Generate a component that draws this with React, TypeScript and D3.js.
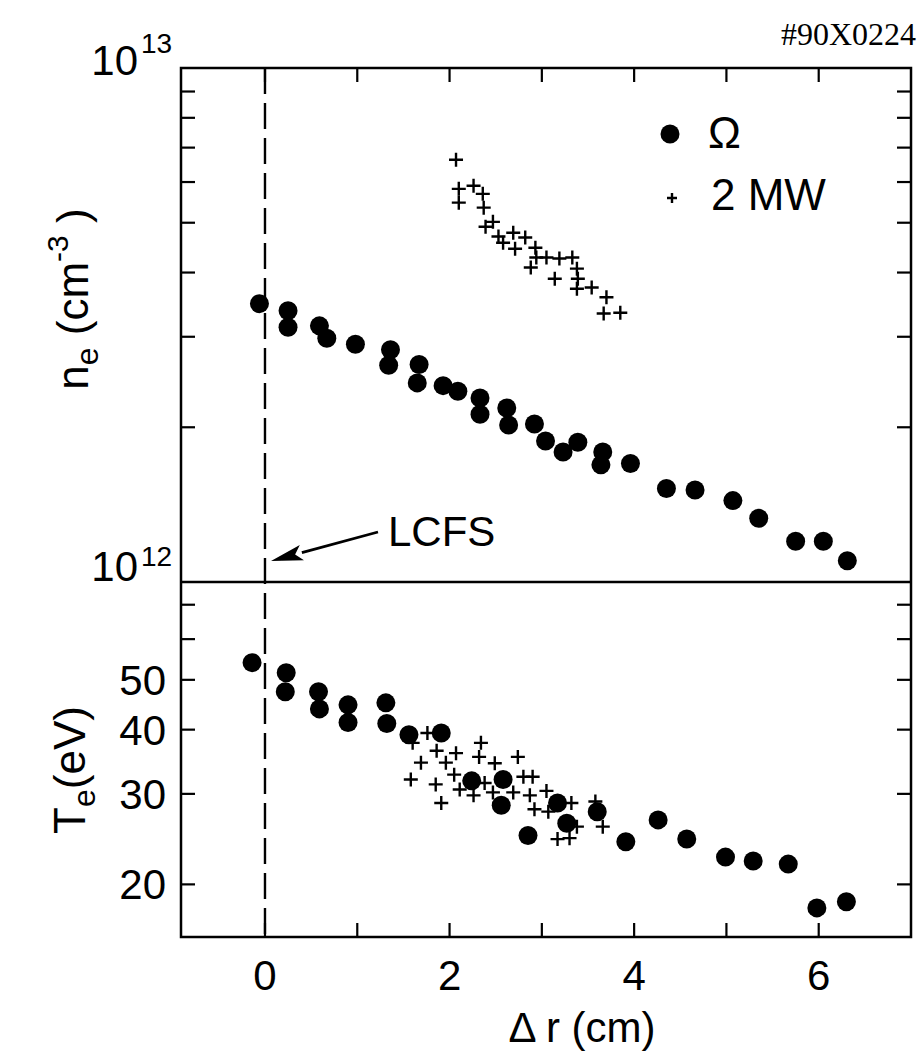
import React from 'react';
import * as d3 from 'd3';

// ---- data ----
// top panel: electron density n_e in units of 1e12 cm^-3
const omegaNeX = [-0.06, 0.25, 0.25, 0.59, 0.67, 0.98, 1.36, 1.34, 1.67, 1.65, 1.93, 2.09, 2.33, 2.33, 2.62, 2.64, 2.92, 3.04, 3.23, 3.39, 3.66, 3.64, 3.96, 4.35, 4.66, 5.07, 5.35, 5.75, 6.05, 6.31];
const omegaNe = [3.48, 3.37, 3.13, 3.15, 2.98, 2.9, 2.83, 2.64, 2.65, 2.44, 2.41, 2.35, 2.28, 2.12, 2.18, 2.02, 2.03, 1.88, 1.79, 1.87, 1.79, 1.69, 1.7, 1.52, 1.51, 1.44, 1.33, 1.2, 1.2, 1.1];
const mwNeX = [2.07, 2.1, 2.26, 2.1, 2.36, 2.37, 2.47, 2.39, 2.53, 2.58, 2.69, 2.71, 2.82, 2.93, 2.94, 3.05, 3.19, 3.33, 2.88, 3.14, 3.38, 3.39, 3.38, 3.54, 3.7, 3.67, 3.85];
const mwNe = [6.63, 5.82, 5.9, 5.47, 5.69, 5.35, 5.02, 4.91, 4.7, 4.57, 4.78, 4.45, 4.68, 4.47, 4.28, 4.28, 4.26, 4.28, 4.09, 3.89, 4.07, 3.89, 3.72, 3.74, 3.58, 3.33, 3.34];
// bottom panel: electron temperature T_e in eV
const omegaTeX = [-0.14, 0.23, 0.22, 0.58, 0.59, 0.9, 0.9, 1.31, 1.32, 1.56, 1.91, 2.24, 2.58, 2.56, 2.85, 3.17, 3.27, 3.6, 3.91, 4.26, 4.57, 4.99, 5.29, 5.67, 5.98, 6.3];
const omegaTe = [54.0, 51.6, 47.4, 47.4, 43.9, 44.7, 41.3, 45.1, 41.1, 39.1, 39.4, 31.8, 32.0, 28.5, 24.9, 28.8, 26.3, 27.7, 24.2, 26.7, 24.5, 22.6, 22.2, 21.9, 18.0, 18.5];
const mwTeX = [1.76, 1.6, 1.86, 2.07, 1.69, 1.96, 2.34, 2.32, 2.49, 2.74, 1.58, 1.85, 2.05, 2.11, 2.26, 2.38, 2.47, 2.69, 2.8, 2.9, 2.87, 3.05, 2.92, 3.07, 1.91, 3.32, 3.17, 3.3, 3.38, 3.58, 3.66];
const mwTe = [39.4, 37.7, 36.4, 36.0, 34.5, 34.5, 37.7, 35.4, 34.4, 35.4, 32.0, 31.3, 32.7, 30.6, 29.8, 31.5, 30.2, 30.2, 32.4, 32.4, 29.8, 30.4, 28.0, 27.7, 28.8, 28.8, 24.5, 24.6, 25.9, 29.0, 25.9];

const xTicks = [0, 1, 2, 3, 4, 5, 6];
const xTickLabels = [0, 2, 4, 6];
const neMinorTicks = [2, 3, 4, 5, 6, 7, 8, 9];
const teTicks = [20, 30, 40, 50, 60, 70];
const teTickLabels = [20, 30, 40, 50];

const SANS = '"Liberation Sans", Arial, Helvetica, sans-serif';
const SERIF = '"Liberation Serif", "Times New Roman", serif';

export default function App() {
  const L = 181, R = 911, T = 68, M = 582, B = 937;
  const x = d3.scaleLinear().domain([-0.91, 7]).range([L, R]);
  const yN = d3.scaleLog().domain([1, 10]).range([M, T]);
  const yT = d3.scaleLog().domain([15.8, 77.5]).range([B, M]);
  const tk = 14;
  const sw = 2.5;

  const cross = (cx: number, cy: number, a: number, k: string) => (
    <path key={k} d={`M${cx - a},${cy}H${cx + a}M${cx},${cy - a}V${cy + a}`} stroke="#000" strokeWidth={2.4} fill="none" />
  );

  // arrow for LCFS
  const tail = [378, 532], tip = [271, 561];
  const dx = tip[0] - tail[0], dy = tip[1] - tail[1];
  const len = Math.hypot(dx, dy);
  const ux = dx / len, uy = dy / len;
  const hl = 32, hw = 8;
  const bx = tip[0] - ux * hl, by = tip[1] - uy * hl;
  const head = `M${tip[0]},${tip[1]}L${bx - uy * hw},${by + ux * hw}L${bx + ux * 7},${by + uy * 7}L${bx + uy * hw},${by - ux * hw}Z`;

  return (
    <svg width={922} height={1056} style={{ position: 'absolute', left: 0, top: 0, background: '#fff' }}>
      <rect x={0} y={0} width={922} height={1056} fill="#fff" />
      {/* frame */}
      <g stroke="#000" strokeWidth={sw} fill="none">
        <rect x={L} y={T} width={R - L} height={B - T} />
        <line x1={L} x2={R} y1={M} y2={M} />
      </g>
      {/* ticks */}
      <g stroke="#000" strokeWidth={2.2}>
        {xTicks.map(v => (
          <g key={'xt' + v}>
            <line x1={x(v)} x2={x(v)} y1={T} y2={T + tk} />
            <line x1={x(v)} x2={x(v)} y1={B} y2={B - tk} />
          </g>
        ))}
        {neMinorTicks.map(v => (
          <g key={'nt' + v}>
            <line x1={L} x2={L + tk} y1={yN(v)} y2={yN(v)} />
            <line x1={R} x2={R - tk} y1={yN(v)} y2={yN(v)} />
          </g>
        ))}
        {teTicks.map(v => (
          <g key={'tt' + v}>
            <line x1={L} x2={L + tk} y1={yT(v)} y2={yT(v)} />
            <line x1={R} x2={R - tk} y1={yT(v)} y2={yT(v)} />
          </g>
        ))}
      </g>
      {/* LCFS dashed line */}
      <line x1={x(0)} x2={x(0)} y1={T} y2={B} stroke="#000" strokeWidth={2.4} strokeDasharray="26 9" />
      {/* data top */}
      <g fill="#000">
        {omegaNeX.map((v, i) => <circle key={'on' + i} cx={x(v)} cy={yN(omegaNe[i])} r={9.5} />)}
      </g>
      {mwNeX.map((v, i) => cross(x(v), yN(mwNe[i]), 7, 'mn' + i))}
      {/* data bottom */}
      <g fill="#000">
        {omegaTeX.map((v, i) => <circle key={'ot' + i} cx={x(v)} cy={yT(omegaTe[i])} r={9.5} />)}
      </g>
      {mwTeX.map((v, i) => cross(x(v), yT(mwTe[i]), 7, 'mt' + i))}

      {/* x tick labels */}
      <g fontFamily={SANS} fontSize={42} textAnchor="middle">
        {xTickLabels.map(v => <text key={'xl' + v} x={x(v)} y={990}>{v}</text>)}
        <text x={582} y={1042}>Δ r (cm)</text>
      </g>
      {/* y tick labels */}
      <g fontFamily={SANS} fontSize={42} textAnchor="end">
        {teTickLabels.map(v => <text key={'tl' + v} x={166} y={yT(v) + 15}>{v}</text>)}
      </g>
      <g fontFamily={SANS}>
        <text x={138} y={75} fontSize={42} textAnchor="end">10</text>
        <text x={141} y={53} fontSize={28}>13</text>
        <text x={138} y={581} fontSize={42} textAnchor="end">10</text>
        <text x={141} y={566} fontSize={28}>12</text>
      </g>
      {/* axis titles */}
      <text transform="translate(88,299) rotate(-90)" fontFamily={SANS} fontSize={44} textAnchor="middle">
        n<tspan fontSize={32} dy={10}>e</tspan><tspan dy={-10}> (cm</tspan><tspan fontSize={30} dy={-20}>-3</tspan><tspan dy={20}> )</tspan>
      </text>
      <text transform="translate(85,770) rotate(-90)" fontFamily={SANS} fontSize={44} textAnchor="middle">
        T<tspan fontSize={32} dy={10}>e</tspan><tspan dy={-10}>(eV)</tspan>
      </text>
      {/* legend */}
      <circle cx={670} cy={134} r={9.5} fill="#000" />
      <text x={708} y={148} fontFamily={SANS} fontSize={44}>Ω</text>
      {cross(672, 198, 5, 'leg')}
      <text x={711} y={210} fontFamily={SANS} fontSize={44}>2 MW</text>
      {/* LCFS annotation */}
      <text x={388} y={546} fontFamily={SANS} fontSize={42}>LCFS</text>
      <line x1={tail[0]} y1={tail[1]} x2={bx} y2={by} stroke="#000" strokeWidth={2.8} />
      <path d={head} fill="#000" />
      {/* figure id */}
      <text x={916} y={45} fontFamily={SERIF} fontSize={32} textAnchor="end">#90X0224</text>
    </svg>
  );
}
